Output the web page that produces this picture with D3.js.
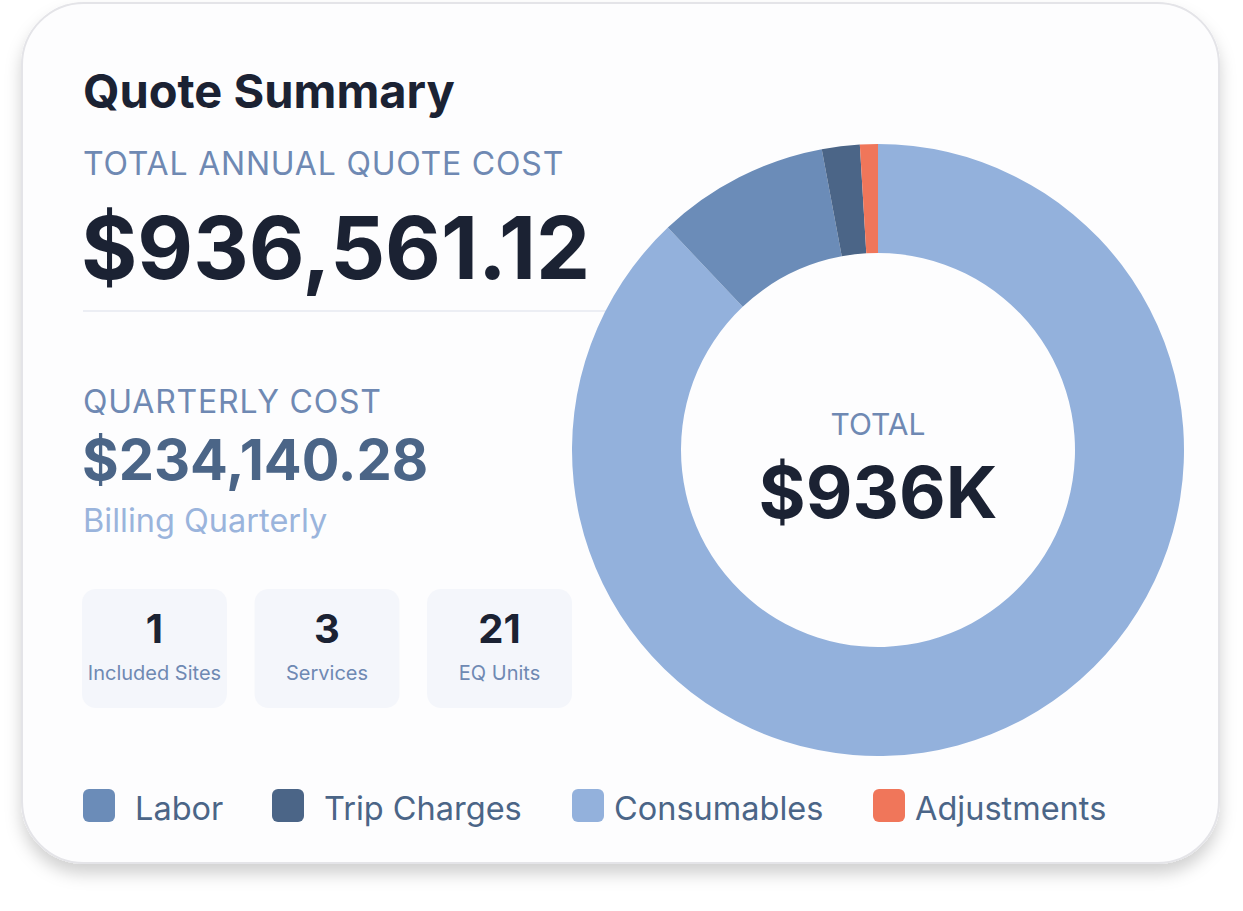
<!DOCTYPE html>
<html><head><meta charset="utf-8">
<script src="https://cdn.jsdelivr.net/npm/d3@7"></script>
<style>body{margin:0;background:#fff;font-family:Inter,sans-serif}</style>
</head><body>
<svg id="c" width="1243" height="911"></svg>
<script>
const categories = ["Consumables", "Labor", "Trip Charges", "Adjustments"]
const values = [823700, 85300, 18700, 8860]
const colors = ["#93b1dc", "#6b8cb8", "#4b6587", "#f0765a"]
const legendOrder = ["Labor", "Trip Charges", "Consumables", "Adjustments"]
const stats = [{n: "1", label: "Included Sites"}, {n: "3", label: "Services"}, {n: "21", label: "EQ Units"}]

const svg = d3.select("#c")
const defs = svg.append("defs")
const f = defs.append("filter").attr("id", "sh").attr("x", "-10%").attr("y", "-10%").attr("width", "120%").attr("height", "125%")
f.append("feDropShadow").attr("dx", 0).attr("dy", 10).attr("stdDeviation", 8).attr("flood-color", "#000").attr("flood-opacity", 0.18)

svg.append("rect").attr("x", 22).attr("y", 3).attr("width", 1197).attr("height", 860).attr("rx", 62)
  .attr("fill", "#fdfdfe").attr("stroke", "#e4e4e8").attr("stroke-width", 2).attr("filter", "url(#sh)")

const t = (x, y, s, size, w, col, anchor) => svg.append("text").attr("x", x).attr("y", y).text(s)
  .attr("font-size", size).attr("font-weight", w).attr("fill", col).attr("text-anchor", anchor || "start")

t(83, 108, "Quote Summary", 47, 700, "#1b2233")
t(83, 175, "TOTAL ANNUAL QUOTE COST", 32, 400, "#6f89b3").attr("letter-spacing", 0.8)
t(81, 279, "$936,561.12", 86, 700, "#1b2233")
svg.append("line").attr("x1", 83).attr("x2", 610).attr("y1", 311).attr("y2", 311).attr("stroke", "#eceef4").attr("stroke-width", 2)
t(83, 413, "QUARTERLY COST", 32, 400, "#6f89b3").attr("letter-spacing", 0.8)
t(82, 480, "$234,140.28", 56, 700, "#4b6587")
t(83, 532, "Billing Quarterly", 32.5, 400, "#9ab4dc")

const bx = d3.scaleBand().domain(stats.map(d => d.label)).range([82, 572]).paddingInner(0.16)
const g = svg.selectAll(".st").data(stats).enter().append("g").attr("transform", d => `translate(${bx(d.label)},589)`)
g.append("rect").attr("width", bx.bandwidth()).attr("height", 119).attr("rx", 14).attr("fill", "#f4f6fb")
g.append("text").attr("x", bx.bandwidth() / 2).attr("y", 54)
  .attr("text-anchor", "middle").attr("font-size", 40).attr("font-weight", 700).attr("fill", "#1b2233").text(d => d.n)
g.append("text").attr("x", bx.bandwidth() / 2).attr("y", 91)
  .attr("text-anchor", "middle").attr("font-size", 20).attr("fill", "#6f89b3").text(d => d.label)

const pie = d3.pie().sort(null).value(d => d)
const arc = d3.arc().innerRadius(197).outerRadius(306)
const color = d3.scaleOrdinal().domain(categories).range(colors)
const pg = svg.append("g").attr("transform", "translate(878,450)")
pg.selectAll("path").data(pie(values)).enter().append("path").attr("d", arc)
  .attr("fill", (d, i) => colors[i])
pg.append("text").attr("y", -15).attr("text-anchor", "middle").attr("font-size", 30).attr("fill", "#6f89b3").text("TOTAL")
pg.append("text").attr("y", 68).attr("text-anchor", "middle").attr("font-size", 72).attr("font-weight", 700).attr("fill", "#1b2233").text("$936K")

const lx = [83, 272, 572, 873]
const lg = svg.selectAll(".lg").data(legendOrder).enter().append("g").attr("transform", (d, i) => `translate(${lx[i]},789)`)
lg.append("rect").attr("width", 32).attr("height", 33).attr("rx", 6).attr("fill", d => color(d))
lg.append("text").attr("x", (d, i) => i < 2 ? 52 : 42).attr("y", 31).attr("font-size", 32.5).attr("fill", "#4b6587").text(d => d)
</script>
</body></html>
